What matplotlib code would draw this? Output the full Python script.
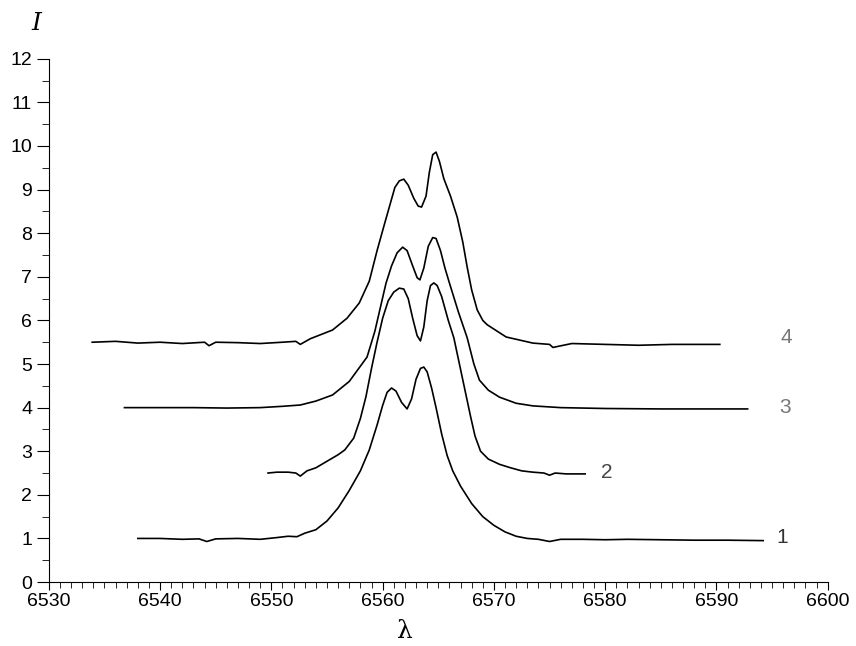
import matplotlib
matplotlib.use("Agg")
import matplotlib.pyplot as plt
from matplotlib.ticker import MultipleLocator

# Curve 1 (baseline ~1.0)
x1 = [6538, 6540, 6542, 6543.5, 6544.2, 6545, 6547, 6549, 6550.5, 6551.5, 6552.3, 6553, 6554, 6555,
      6556, 6557, 6558, 6558.8, 6559.5, 6560.0, 6560.4, 6560.8, 6561.2, 6561.7, 6562.2, 6562.6, 6563.0,
      6563.4, 6563.7, 6564.0, 6564.4, 6564.8, 6565.3, 6565.8, 6566.3, 6567, 6568, 6569, 6570, 6571,
      6572, 6573, 6574, 6575, 6576, 6578, 6580, 6582, 6585, 6588, 6591, 6594.2]
y1 = [1.0, 1.0, 0.98, 0.99, 0.93, 0.99, 1.0, 0.98, 1.02, 1.05, 1.04, 1.12, 1.2, 1.4,
      1.7, 2.1, 2.55, 3.03, 3.6, 4.05, 4.35, 4.45, 4.38, 4.12, 3.97, 4.2, 4.65,
      4.9, 4.93, 4.82, 4.45, 4.0, 3.4, 2.9, 2.55, 2.2, 1.8, 1.5, 1.3, 1.15,
      1.05, 1.0, 0.98, 0.93, 0.98, 0.98, 0.97, 0.98, 0.97, 0.96, 0.96, 0.95]

# Curve 2 (baseline ~2.5)
x2 = [6549.7, 6550.5, 6551.5, 6552.2, 6552.6, 6553.2, 6554, 6555.2, 6556, 6556.6, 6557.4, 6558.0,
      6558.5, 6559.0, 6559.5, 6560.0, 6560.5, 6561.0, 6561.5, 6561.9, 6562.3, 6562.7, 6563.1, 6563.4,
      6563.7, 6564.0, 6564.3, 6564.6, 6564.9, 6565.3, 6565.9, 6566.4, 6566.9, 6567.4, 6567.9, 6568.3,
      6568.8, 6569.5, 6570.5, 6571.5, 6572.5, 6573.5, 6574.5, 6575, 6575.5, 6576.5, 6578.2]
y2 = [2.5, 2.52, 2.52, 2.5, 2.43, 2.55, 2.62, 2.8, 2.92, 3.03, 3.3, 3.75,
      4.25, 4.9, 5.5, 6.05, 6.45, 6.65, 6.74, 6.72, 6.5, 6.05, 5.65, 5.53,
      5.85, 6.45, 6.8, 6.86, 6.8, 6.55, 6.0, 5.6, 5.0, 4.4, 3.8, 3.35,
      3.0, 2.82, 2.7, 2.62, 2.55, 2.52, 2.5, 2.45, 2.5, 2.48, 2.48]

# Curve 3 (baseline ~4.0)
x3 = [6536.8, 6540, 6543, 6546, 6549, 6551, 6552.6, 6554, 6555.5, 6557, 6558.6, 6559.3, 6559.8,
      6560.3, 6560.8, 6561.3, 6561.8, 6562.2, 6562.7, 6563.1, 6563.35, 6563.7, 6564.1, 6564.5, 6564.8,
      6565.2, 6565.6, 6566.0, 6566.8, 6567.6, 6568.2, 6568.7, 6569.5, 6570.5, 6572, 6573.5, 6576,
      6580, 6585, 6589, 6592.8]
y3 = [4.0, 4.0, 4.0, 3.99, 4.0, 4.03, 4.06, 4.15, 4.29, 4.6, 5.16, 5.75, 6.3,
      6.85, 7.25, 7.55, 7.68, 7.6, 7.25, 6.98, 6.93, 7.2, 7.7, 7.9, 7.88,
      7.6, 7.2, 6.86, 6.2, 5.6, 5.0, 4.63, 4.4, 4.24, 4.1, 4.04, 4.0,
      3.98, 3.97, 3.97, 3.97]

# Curve 4 (baseline ~5.5)
x4 = [6533.9, 6536, 6538, 6540, 6542, 6544, 6544.4, 6545, 6547, 6549, 6551, 6552.2, 6552.6, 6553.5,
      6555.5, 6556.8, 6557.9, 6558.8, 6559.5, 6560.1, 6560.6, 6561.1, 6561.5, 6561.9, 6562.3, 6562.8,
      6563.2, 6563.5, 6563.9, 6564.2, 6564.5, 6564.8, 6565.1, 6565.5, 6566.1, 6566.7, 6567.2, 6567.6,
      6568.0, 6568.5, 6569.0, 6569.4, 6571.1, 6573.5, 6575, 6575.3, 6577, 6580, 6583, 6586, 6590.3]
y4 = [5.5, 5.52, 5.48, 5.5, 5.47, 5.5, 5.42, 5.5, 5.49, 5.47, 5.5, 5.52, 5.45, 5.58,
      5.78, 6.05, 6.4, 6.9, 7.6, 8.15, 8.6, 9.05, 9.2, 9.24, 9.1, 8.8,
      8.62, 8.6, 8.85, 9.4, 9.8, 9.86, 9.65, 9.25, 8.85, 8.37, 7.8, 7.22,
      6.7, 6.24, 6.0, 5.9, 5.62, 5.48, 5.45, 5.38, 5.47, 5.45, 5.43, 5.45, 5.45]

curve_labels = ["1", "2", "3", "4"]
label_x = [6595.9, 6580.1, 6596.2, 6596.3]
label_y = [1.03, 2.52, 4.01, 5.6]

fig = plt.figure(figsize=(8.56, 6.46), dpi=100)
ax = fig.add_axes([0.057, 0.099, 0.910, 0.810])

for xs, ys in [(x1, y1), (x2, y2), (x3, y3), (x4, y4)]:
    ax.plot(xs, ys, color="black", lw=1.2, solid_joinstyle="round")

label_colors = ["#333333", "#444444", "#777777", "#777777"]
for t, lx, ly, c in zip(curve_labels, label_x, label_y, label_colors):
    ax.text(lx, ly, t, fontsize=15, color=c, ha="center", va="center",
            family="Liberation Sans")

ax.set_xlim(6530, 6600)
ax.set_ylim(0, 12)
ax.spines["top"].set_visible(False)
ax.spines["right"].set_visible(False)
ax.xaxis.set_major_locator(MultipleLocator(10))
ax.xaxis.set_minor_locator(MultipleLocator(1))
ax.yaxis.set_major_locator(MultipleLocator(1))
ax.yaxis.set_minor_locator(MultipleLocator(0.5))
ax.tick_params(axis="x", which="major", direction="out", length=6, width=0.8, labelsize=14, pad=2)
ax.tick_params(axis="x", which="minor", direction="out", length=4, width=0.6)
ax.tick_params(axis="y", which="major", direction="out", length=9, width=0.8, labelsize=14, pad=3)
ax.tick_params(axis="y", which="minor", direction="out", length=5, width=0.6)
for lab in ax.get_xticklabels() + ax.get_yticklabels():
    lab.set_family("Liberation Sans")

fig.text(0.043, 0.964, "I", fontsize=18, family="DejaVu Serif", style="italic", ha="center", va="center")
fig.text(0.473, 0.022, "λ", fontsize=18, family="DejaVu Serif", ha="center", va="center")

fig.savefig("out.png", dpi=100)
